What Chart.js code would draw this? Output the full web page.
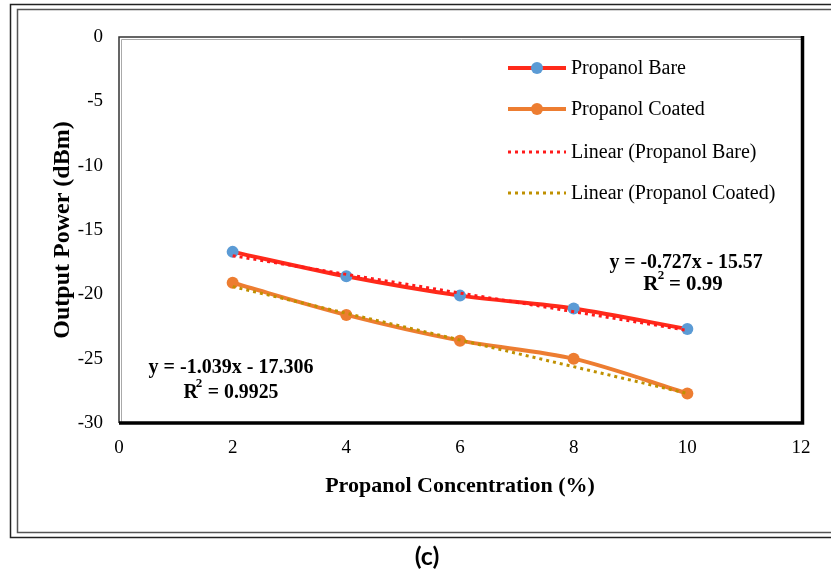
<!DOCTYPE html>
<html>
<head>
<meta charset="utf-8">
<script src="https://cdn.jsdelivr.net/npm/chart.js@4"></script>
<style>
  body { margin: 0; background: #fff; }
  canvas { display: block; }
</style>
</head>
<body>
<canvas id="myChart" width="831" height="573"></canvas>
<script>
// dados
let concentracoes = [2, 4, 6, 8, 10];
let bareValues = [-16.7, -18.6, -20.1, -21.1, -22.7];
let coatedValues = [-19.1, -21.6, -23.6, -25.0, -27.7];
let trendX = [2, 10];
let bareTrend = [-17.0, -22.8];
let coatedTrend = [-19.4, -27.7];
let xTicks = [0, 2, 4, 6, 8, 10, 12];
let yTicks = [0, -5, -10, -15, -20, -25, -30];
let legendLabels = ["Propanol Bare", "Propanol Coated", "Linear (Propanol Bare)", "Linear (Propanol Coated)"];

const serif = "'Liberation Serif', 'Times New Roman', serif";

function pontos(xs, ys) {
  return xs.map((x, i) => ({ x: x, y: ys[i] }));
}

// texto em negrito um pouco condensado (como no original)
function textoCondensado(ctx, txt, cx, cy, escala) {
  ctx.save();
  ctx.translate(cx, cy);
  ctx.scale(escala, 1);
  ctx.fillText(txt, 0, 0);
  ctx.restore();
}

// moldura externa, caixa do gráfico e legenda
const extras = {
  id: "extras",
  beforeDraw(chart) {
    const ctx = chart.ctx;
    ctx.save();
    ctx.fillStyle = "#fff";
    ctx.fillRect(0, 0, chart.width, chart.height);
    ctx.strokeStyle = "#222";
    ctx.lineWidth = 1.5;
    ctx.strokeRect(10.5, 4.5, 900, 533);
    ctx.strokeStyle = "#555";
    ctx.lineWidth = 1.5;
    ctx.strokeRect(17.5, 9.5, 900, 523);
    ctx.restore();
  },
  afterDatasetsDraw(chart) {
    const ctx = chart.ctx;
    const a = chart.chartArea;
    ctx.save();
    // caixa da área do gráfico
    ctx.strokeStyle = "#333";
    ctx.lineWidth = 1.5;
    ctx.beginPath();
    ctx.moveTo(a.left, a.bottom);
    ctx.lineTo(a.left, a.top);
    ctx.lineTo(a.right, a.top);
    ctx.stroke();
    ctx.strokeStyle = "#aaa";
    ctx.lineWidth = 1;
    ctx.beginPath();
    ctx.moveTo(a.left + 2.5, a.bottom);
    ctx.lineTo(a.left + 2.5, a.top + 2.5);
    ctx.lineTo(a.right, a.top + 2.5);
    ctx.stroke();
    ctx.strokeStyle = "#000";
    ctx.lineWidth = 3.5;
    ctx.beginPath();
    ctx.moveTo(a.left, a.bottom);
    ctx.lineTo(a.right + 1.5, a.bottom);
    ctx.lineTo(a.right + 1.5, a.top - 1);
    ctx.stroke();

    // legenda
    const ds = chart.data.datasets;
    const rows = [68, 109, 152, 193];
    ds.forEach((d, i) => {
      let y = rows[i];
      ctx.strokeStyle = d.borderColor;
      ctx.lineWidth = d.borderWidth;
      ctx.setLineDash(d.borderDash || []);
      ctx.beginPath();
      ctx.moveTo(508, y);
      ctx.lineTo(566, y);
      ctx.stroke();
      ctx.setLineDash([]);
      if (d.pointRadius > 0) {
        ctx.fillStyle = d.pointBackgroundColor;
        ctx.beginPath();
        ctx.arc(537, y, d.pointRadius, 0, Math.PI * 2);
        ctx.fill();
      }
      ctx.fillStyle = "#000";
      ctx.font = "20px " + serif;
      ctx.textBaseline = "middle";
      ctx.fillText(legendLabels[i], 571, y + 1);
    });

    // equações das linhas de tendência
    ctx.font = "bold 22px " + serif;
    ctx.textAlign = "center";
    textoCondensado(ctx, "y = -0.727x - 15.57", 686, 262, 0.9);
    textoCondensado(ctx, "R  = 0.99", 683, 284, 0.95);
    textoCondensado(ctx, "y = -1.039x - 17.306", 231, 367, 0.91);
    textoCondensado(ctx, "R  = 0.9925", 231, 392, 0.9);
    ctx.font = "bold 13px " + serif;
    ctx.fillText("2", 661, 276);
    ctx.fillText("2", 199, 384);

    // legenda da figura
    ctx.font = "bold 25px Lato, 'Open Sans', sans-serif";
    ctx.fillText("(c)", 427, 557);
    ctx.restore();
  }
};

let ctx = document.getElementById("myChart").getContext("2d");
let chart = new Chart(ctx, {
  type: "scatter",
  data: {
    datasets: [
      {
        label: legendLabels[0],
        data: pontos(concentracoes, bareValues),
        showLine: true,
        borderColor: "#ff2a1a",
        borderWidth: 4,
        pointBackgroundColor: "#5b9bd5",
        pointBorderWidth: 0,
        pointRadius: 6,
        tension: 0.3,
        order: 1,
      },
      {
        label: legendLabels[1],
        data: pontos(concentracoes, coatedValues),
        showLine: true,
        borderColor: "#ed7d31",
        borderWidth: 4,
        pointBackgroundColor: "#ed7d31",
        pointBorderWidth: 0,
        pointRadius: 6,
        tension: 0.3,
        order: 1,
      },
      {
        label: legendLabels[2],
        data: pontos(trendX, bareTrend),
        showLine: true,
        borderColor: "#ff1a1a",
        borderWidth: 3,
        borderDash: [3, 4],
        pointRadius: 0,
        order: 0,
      },
      {
        label: legendLabels[3],
        data: pontos(trendX, coatedTrend),
        showLine: true,
        borderColor: "#bf9000",
        borderWidth: 3,
        borderDash: [3, 4],
        pointRadius: 0,
        order: 0,
      },
    ],
  },
  options: {
    responsive: false,
    animation: false,
    layout: {
      padding: { left: 44, top: 37, right: 30, bottom: 69 },
    },
    plugins: {
      legend: { display: false },
      tooltip: { enabled: false },
    },
    scales: {
      x: {
        type: "linear",
        min: 0,
        max: 12,
        afterBuildTicks: (s) => { s.ticks = xTicks.map((v) => ({ value: v })); },
        afterFit: (s) => { s.height = 81; },
        grid: { display: false, drawTicks: false },
        border: { display: false },
        ticks: { color: "#000", padding: 14, font: { family: serif, size: 19 } },
        title: {
          display: true,
          text: "Propanol Concentration (%)",
          color: "#000",
          padding: 4,
          font: { family: serif, size: 22, weight: "bold" },
        },
      },
      y: {
        min: -30,
        max: 0,
        afterBuildTicks: (s) => { s.ticks = yTicks.map((v) => ({ value: v })); },
        afterFit: (s) => { s.width = 75; },
        grid: { display: false, drawTicks: false },
        border: { display: false },
        ticks: { color: "#000", padding: 16, font: { family: serif, size: 19 } },
        title: {
          display: true,
          text: "Output Power (dBm)",
          color: "#000",
          padding: 4,
          font: { family: serif, size: 24, weight: "bold" },
        },
      },
    },
  },
  plugins: [extras],
});
</script>
</body>
</html>
